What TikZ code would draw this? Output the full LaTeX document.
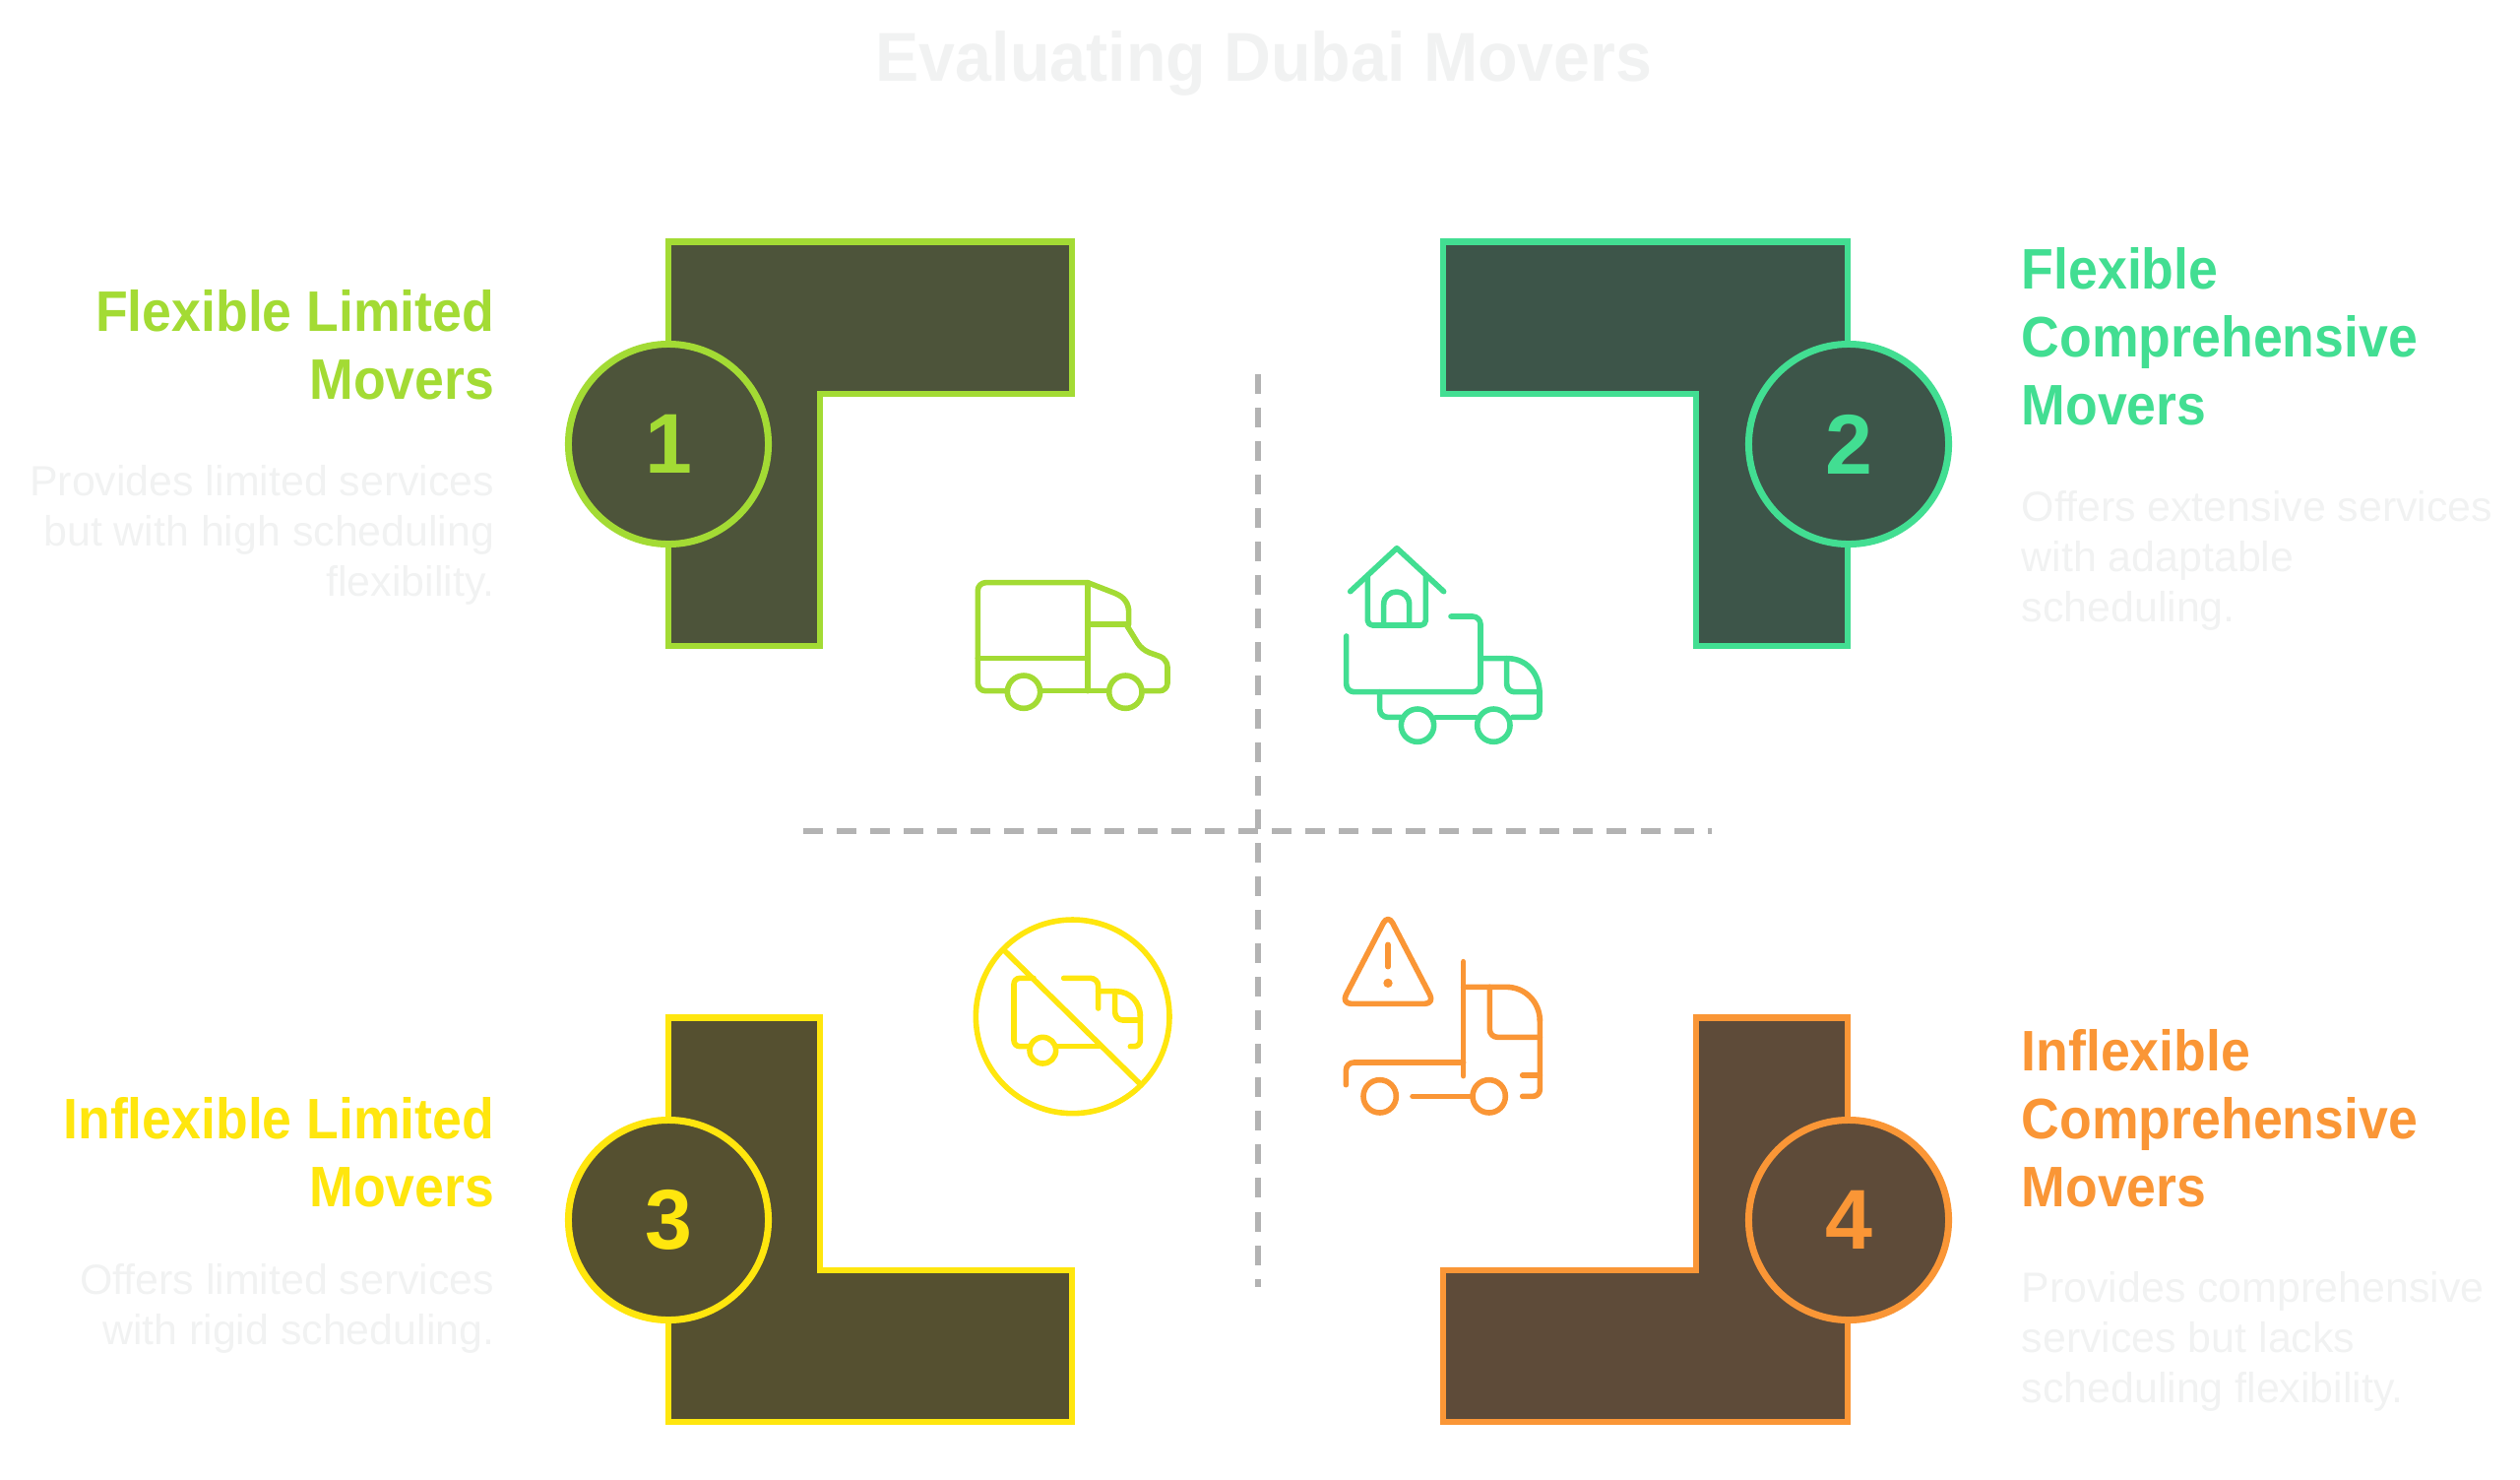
\documentclass[tikz,border=0pt]{standalone}
\usepackage{fontspec}
\setmainfont{Liberation Sans}
\newfontfamily\titlefam[FakeStretch=.943]{Liberation Sans}
\newfontfamily\headfam[FakeStretch=.924]{Liberation Sans}
\newfontfamily\bodyfam{Liberation Sans}
\definecolor{lime}{RGB}{163,219,52}
\definecolor{limedark}{RGB}{77,84,58}
\definecolor{mint}{RGB}{66,222,146}
\definecolor{mintdark}{RGB}{61,85,73}
\definecolor{sun}{RGB}{255,230,14}
\definecolor{sundark}{RGB}{85,80,48}
\definecolor{amber}{RGB}{250,150,54}
\definecolor{amberdark}{RGB}{94,75,57}
\definecolor{pale}{RGB}{241,242,242}
\definecolor{axisgrey}{RGB}{179,179,179}
\tikzset{
   corner/.style={line width=.065cm,miter limit=10},
   badge/.style={circle,line width=.07cm,minimum size=2.03cm,inner sep=0pt,
      font={\bfseries\fontsize{24.5pt}{25pt}\selectfont}},
   heading/.style={inner sep=0pt,font={\headfam\bfseries\fontsize{16.5pt}{19.5pt}\selectfont}},
   blurb/.style={inner sep=0pt,text=pale,font={\bodyfam\fontsize{12.2pt}{14.5pt}\selectfont}},
   glyph/.style={line width=.056cm,line cap=round,line join=round},
   axisline/.style={axisgrey,line width=.055cm,dash pattern=on .2cm off .14cm}
}
\begin{document}
\begin{tikzpicture}[x=.01cm,y=-.01cm]
   \useasboundingbox (0,0) rectangle (2560,1502);

   \node[anchor=base,inner sep=0pt,text=pale,font={\titlefam\bfseries\fontsize{20pt}{24pt}\selectfont}] (title) at (1284,82) {Evaluating Dubai Movers};

   \coordinate (axisleft) at (816,844);
   \coordinate (axisright) at (1739,844);
   \coordinate (axistop) at (1278,380);
   \coordinate (axisbottom) at (1278,1307);
   \draw[axisline] (axisleft) -- (axisright);
   \draw[axisline] (axistop) -- (axisbottom);

   \draw[corner,draw=lime,fill=limedark] (679,245.5) -- (1089,245.5) -- (1089,400) -- (833,400) -- (833,656) -- (679,656) -- cycle;
   \draw[corner,draw=mint,fill=mintdark] (1466,245.5) -- (1877,245.5) -- (1877,656) -- (1723,656) -- (1723,400) -- (1466,400) -- cycle;
   \draw[corner,draw=sun,fill=sundark] (679,1033.5) -- (833,1033.5) -- (833,1290) -- (1089,1290) -- (1089,1444) -- (679,1444) -- cycle;
   \draw[corner,draw=amber,fill=amberdark] (1723,1033.5) -- (1877,1033.5) -- (1877,1444) -- (1466,1444) -- (1466,1290) -- (1723,1290) -- cycle;

   \node[badge,draw=lime,fill=limedark,text=lime] (one) at (679,451) {1};
   \node[badge,draw=mint,fill=mintdark,text=mint] (two) at (1878,451) {2};
   \node[badge,draw=sun,fill=sundark,text=sun] (three) at (679,1239) {3};
   \node[badge,draw=amber,fill=amberdark,text=amber] (four) at (1878,1239) {4};

   \node[heading,text=lime,anchor=base east,align=right] (head1) at (503,405) {Flexible Limited\\Movers};
   \node[blurb,anchor=base east,align=right] (text1) at (503,605.5) {Provides limited services\\but with high scheduling\\flexibility.};
   \node[heading,text=mint,anchor=base west,align=left] (head2) at (2053,431) {Flexible\\Comprehensive\\Movers};
   \node[blurb,anchor=base west,align=left] (text2) at (2053,631) {Offers extensive services\\with adaptable\\scheduling.};
   \node[heading,text=sun,anchor=base east,align=right] (head3) at (503,1225) {Inflexible Limited\\Movers};
   \node[blurb,anchor=base east,align=right] (text3) at (503,1365) {Offers limited services\\with rigid scheduling.};
   \node[heading,text=amber,anchor=base west,align=left] (head4) at (2053,1225) {Inflexible\\Comprehensive\\Movers};
   \node[blurb,anchor=base west,align=left] (text4) at (2053,1424) {Provides comprehensive\\services but lacks\\scheduling flexibility.};

   \begin{scope}[shift={(960,560)},scale=1/3,glyph,draw=lime]
       \draw[rounded corners=.08cm] (190,425) -| (100,95) -- (435,95);
       \draw (435,95) -- (520,128) .. controls (548,140) and (560,160) .. (560,185) -- (560,222) -- (435,222);
       \draw (435,95) -- (435,425);
       \draw (100,325) -- (435,325);
       \draw (290,425) -- (490,425);
       \draw[rounded corners=.08cm] (552,222) -- (600,300) -- (678,328) -- (678,425) -- (605,425);
       \draw (240,428) circle (50);
       \draw (550,428) circle (50);
   \end{scope}

   \begin{scope}[shift={(1340,540)},scale=1/3,glyph,draw=mint]
       \draw (95,182) -- (237,50) -- (380,182);
       \draw[rounded corners=.05cm] (148,135) -- (148,285) -- (325,285) -- (325,135);
       \draw (197,285) -- (197,222) .. controls (197,170) and (275,170) .. (275,222) -- (275,285);
       \draw[rounded corners=.08cm] (83,318) -- (83,488) -- (492,488) -- (492,258) -- (402,258);
       \draw (492,386) -- (575,386) .. controls (630,386) and (672,430) .. (672,490);
       \draw[rounded corners=.06cm] (672,485) -- (672,565) -- (590,565);
       \draw[rounded corners=.08cm] (572,386) -- (572,488) -- (672,488);
       \draw[rounded corners=.08cm] (185,488) -- (185,565) -- (248,565);
       \draw (355,565) -- (478,565);
       \draw (300,590) circle (50);
       \draw (532,590) circle (50);
   \end{scope}

   \begin{scope}[shift={(970,920)},scale=1/3,glyph,draw=sun]
       \draw (359,337) circle (295);
       \draw (150,135) -- (562,540);
       \draw[rounded corners=.06cm] (240,220) -- (180,220) -- (180,428) -- (228,428);
       \draw (310,428) -- (440,428);
       \draw[rounded corners=.08cm] (332,220) -- (437,220) -- (437,312);
       \draw (437,260) -- (490,260) .. controls (535,260) and (565,295) .. (565,335);
       \draw[rounded corners=.06cm] (565,330) -- (565,428) -- (535,428);
       \draw[rounded corners=.08cm] (488,260) -- (488,348) -- (565,348);
       \draw (268,440) circle (40);
   \end{scope}

   \begin{scope}[shift={(1350,920)},scale=1/3,glyph,draw=amber]
       \draw[rounded corners=.1cm] (180,25) -- (322,298) -- (38,298) -- cycle;
       \draw (180,118) -- (180,185);
       \fill[amber] (180,235) circle (14);
       \draw (410,170) -- (410,518);
       \draw (410,247) -- (540,247) .. controls (600,247) and (643,295) .. (643,350);
       \draw[rounded corners=.07cm] (643,345) -- (643,580) -- (590,580);
       \draw (590,516) -- (643,516);
       \draw[rounded corners=.08cm] (490,247) -- (490,400) -- (643,400);
       \draw[rounded corners=.08cm] (52,545) -- (52,477) -- (410,477);
       \draw (255,580) -- (438,580);
       \draw (155,580) circle (50);
       \draw (488,580) circle (50);
   \end{scope}
\end{tikzpicture}
\end{document}
